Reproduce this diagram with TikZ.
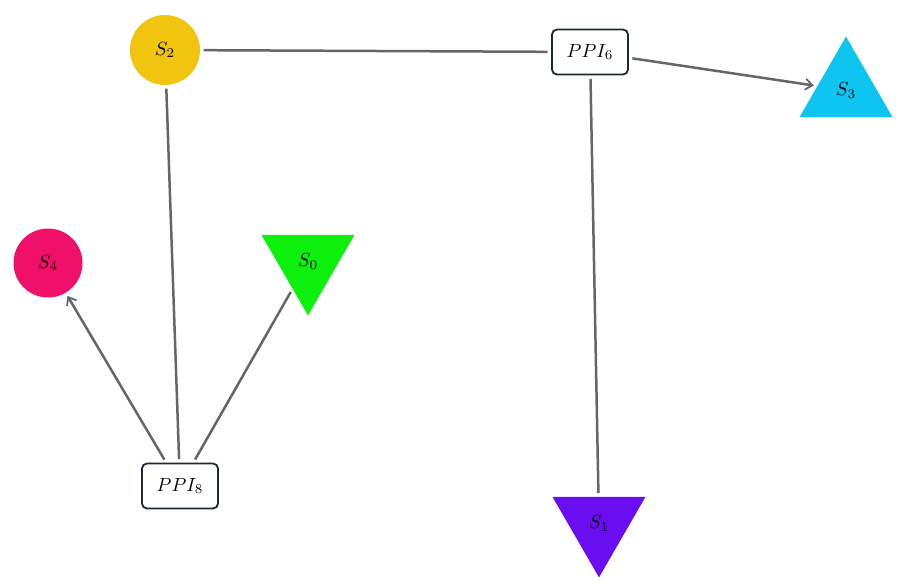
\documentclass[tikz,border=0pt]{standalone}
\usetikzlibrary{shapes.geometric,arrows.meta}
\definecolor{cyel}{HTML}{F1C40F}
\definecolor{ccyan}{HTML}{0DC5F0}
\definecolor{cpink}{HTML}{F0106A}
\definecolor{cgreen}{HTML}{0DF00D}
\definecolor{cpurp}{HTML}{6A0DF0}
\definecolor{cedge}{HTML}{666666}
\definecolor{cbox}{HTML}{1C2833}
\newcommand{\mylab}[1]{\scalebox{1.9}{$#1$}}
\begin{document}
\begin{tikzpicture}[x=1pt,y=-1pt,
  circ/.style={circle,minimum size=70pt,inner sep=0pt},
  triup/.style={regular polygon,regular polygon sides=3,minimum size=107.4pt,inner sep=0pt},
  tridn/.style={triup,shape border rotate=180},
  ppi/.style={draw=cbox,line width=1.8pt,rounded corners=5pt,fill=white,minimum width=76pt,minimum height=45pt,inner sep=0pt},
  link/.style={draw=cedge,line width=2.5pt,shorten <=3.5pt,shorten >=3.5pt},
  arr/.style={link,-{Straight Barb[length=7pt,width=11pt,line width=1.8pt]}}
]
\useasboundingbox (0,0) rectangle (907,587);
\node[circ,fill=cyel] (S2) at (165,50) {\mylab{S_2}};
\node[circ,fill=cpink,minimum size=69pt] (S4) at (48,263) {\mylab{S_4}};
\node[triup,fill=ccyan] (S3) at (846,90.3) {\mylab{S_3}};
\node[tridn,fill=cgreen] (S0) at (308,261.7) {\mylab{S_0}};
\node[tridn,fill=cpurp] (S1) at (599,523.7) {\mylab{S_1}};
\node[ppi] (P6) at (590,52) {\mylab{PPI_6}};
\node[ppi] (P8) at (180,486) {\mylab{PPI_8}};
\draw[link] (S2) -- (P6);
\draw[arr] (P6) -- (S3);
\draw[link] (P6) -- (S1);
\draw[arr] (P8) -- (S4);
\draw[link] (P8) -- (S2);
\draw[link] (P8) -- (S0);
\end{tikzpicture}
\end{document}
